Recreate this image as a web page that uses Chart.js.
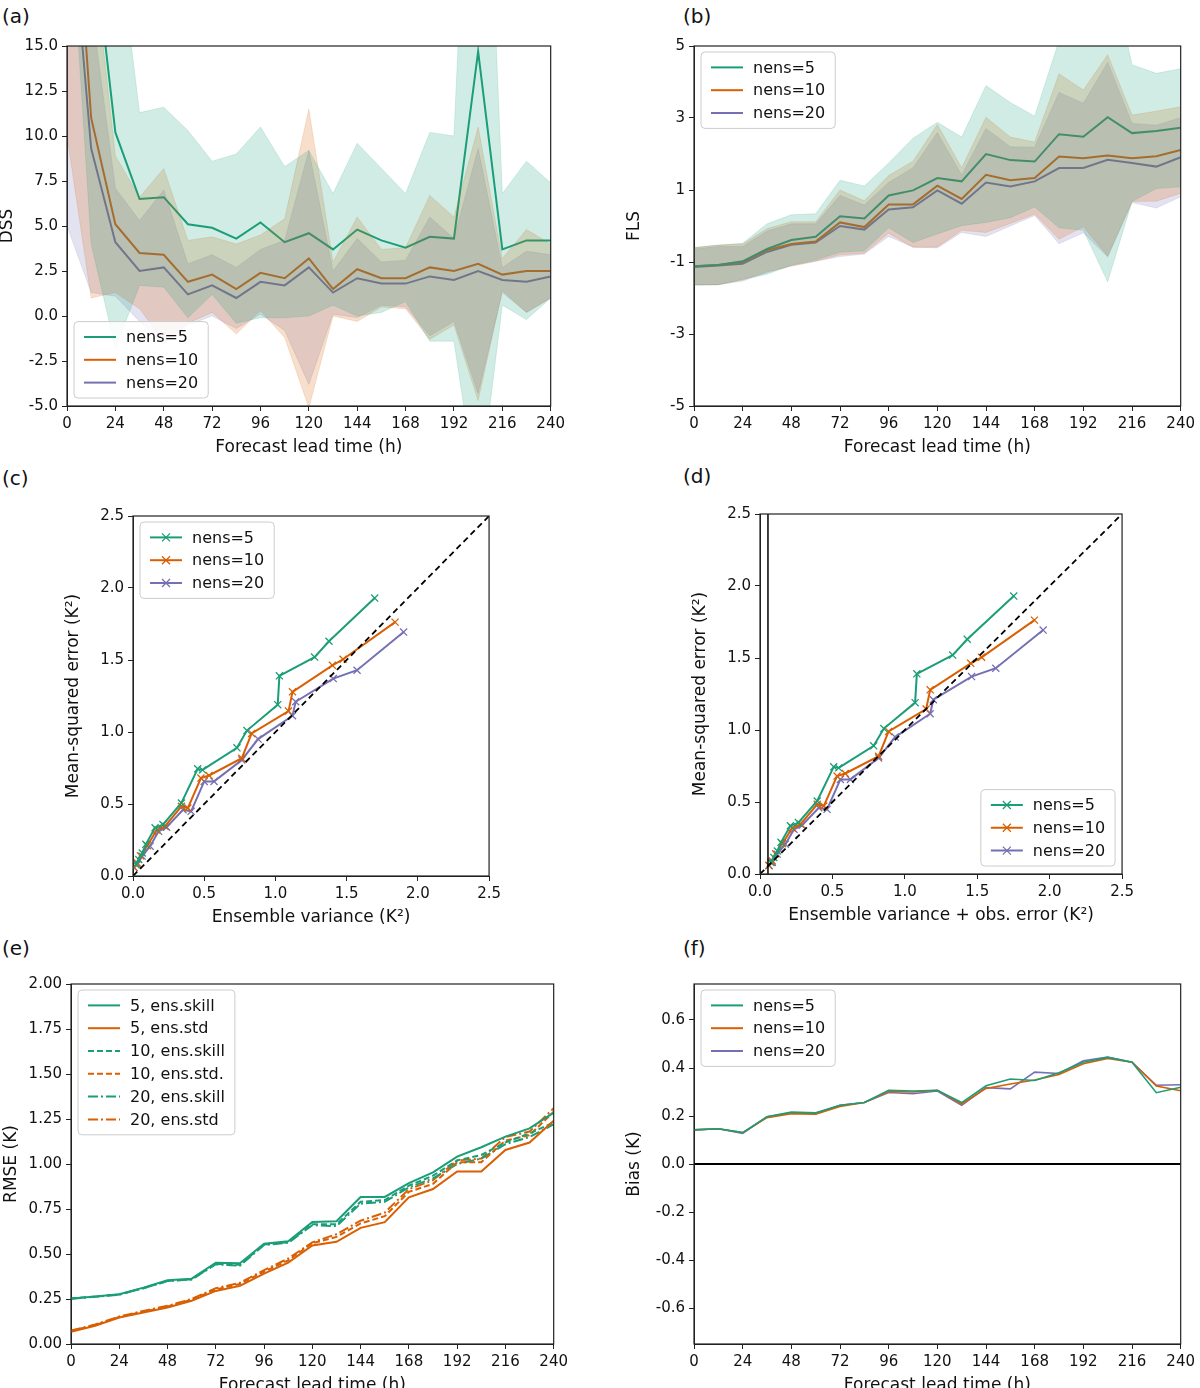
<!DOCTYPE html>
<html>
<head>
<meta charset="utf-8">
<script src="https://cdn.jsdelivr.net/npm/chart.js@4"></script>
<style>
body{margin:0;background:#fff;width:1200px;height:1388px;position:relative;font-family:"DejaVu Sans",sans-serif}
canvas{position:absolute}
.lab{position:absolute;font-size:20px;color:#111}
</style>
</head>
<body>
<div class="lab" style="left:2px;top:4px">(a)</div>
<div class="lab" style="left:683px;top:4px">(b)</div>
<div class="lab" style="left:2px;top:466px">(c)</div>
<div class="lab" style="left:683px;top:464px">(d)</div>
<div class="lab" style="left:2px;top:936px">(e)</div>
<div class="lab" style="left:683px;top:936px">(f)</div>
<canvas id="ca"></canvas><canvas id="cb"></canvas><canvas id="cc"></canvas>
<canvas id="cd"></canvas><canvas id="ce"></canvas><canvas id="cf"></canvas>
<script>
// lead times (h)
var lead=[0,12,24,36,48,60,72,84,96,108,120,132,144,156,168,180,192,204,216,228,240]
var members=['nens=5','nens=10','nens=20']
var green='#1b9e77', orange='#d95f02', purple='#7570b3'

// (a) DSS mean and spread
var dss5=[40,22,10.2,6.5,6.6,5.1,4.9,4.3,5.2,4.1,4.6,3.7,4.8,4.2,3.8,4.4,4.3,14.7,3.7,4.2,4.2]
var dss10=[30,11,5.1,3.5,3.4,1.9,2.3,1.5,2.4,2.1,3.2,1.5,2.6,2.1,2.1,2.7,2.5,2.9,2.3,2.5,2.5]
var dss20=[25,9.3,4.1,2.5,2.7,1.2,1.7,1.0,1.9,1.7,2.7,1.3,2.1,1.8,1.8,2.2,2.0,2.5,2.0,1.9,2.2]
var dssSd5=[15,18,12,4.8,5.0,5.2,3.7,4.7,5.3,4.2,4.6,3.1,4.8,4.0,3.0,5.8,5.7,25,3.1,4.4,3.2]
var dssSd10=[20,10,3.8,3.1,4.8,2.3,2.1,2.5,2.1,3.3,8.3,1.5,2.9,1.6,1.7,4.0,3.0,7.6,0.9,2.3,1.5]
var dssSd20=[20,8,3.0,2.8,4.3,1.7,1.7,1.7,1.8,2.5,6.5,1.2,2.2,1.2,1.3,3.3,2.3,6.8,0.7,1.7,1.2]

// (b) FLS mean and spread
var fls5=[-1.12,-1.08,-0.98,-0.64,-0.39,-0.3,0.27,0.21,0.85,0.99,1.33,1.24,2.0,1.83,1.79,2.55,2.48,3.02,2.58,2.64,2.73]
var fls10=[-1.12,-1.08,-1.0,-0.67,-0.5,-0.43,0.1,-0.03,0.6,0.6,1.12,0.75,1.42,1.27,1.33,1.93,1.88,1.96,1.88,1.94,2.11]
var fls20=[-1.14,-1.1,-1.05,-0.72,-0.52,-0.46,0.0,-0.1,0.46,0.52,0.99,0.62,1.21,1.1,1.24,1.61,1.61,1.84,1.75,1.65,1.91]
var flsSd5=[0.52,0.55,0.5,0.7,0.7,0.64,1.0,0.9,0.9,1.45,1.55,1.23,1.9,1.6,1.26,2.6,2.6,4.57,1.9,1.6,1.64]
var flsSd10=[0.52,0.55,0.5,0.6,0.62,0.55,0.9,0.73,0.8,1.2,1.7,0.87,1.6,1.2,1.0,2.3,1.9,2.8,1.2,1.25,1.2]
var flsSd20=[0.5,0.53,0.48,0.58,0.58,0.52,0.85,0.68,0.75,1.1,1.6,0.8,1.5,1.1,0.95,2.1,1.8,2.7,1.1,1.15,1.1]

// (c),(d) ensemble variance vs mean-squared error
var var5=[0.02,0.04,0.065,0.09,0.155,0.21,0.34,0.454,0.488,0.73,0.80,1.016,1.028,1.275,1.376,1.697]
var mse5=[0.08,0.115,0.16,0.22,0.335,0.357,0.507,0.744,0.737,0.89,1.01,1.19,1.39,1.52,1.63,1.93]
var var10=[0.007,0.03,0.053,0.1,0.167,0.225,0.34,0.385,0.477,0.534,0.764,0.833,1.092,1.12,1.4,1.475,1.84]
var mse10=[0.06,0.09,0.14,0.21,0.32,0.346,0.484,0.472,0.68,0.698,0.818,0.99,1.145,1.279,1.463,1.505,1.763]
var var20=[0.007,0.03,0.064,0.12,0.18,0.236,0.351,0.408,0.5,0.569,0.764,0.878,1.12,1.142,1.406,1.573,1.9]
var mse20=[0.058,0.08,0.138,0.207,0.31,0.339,0.46,0.449,0.657,0.657,0.806,0.951,1.113,1.21,1.371,1.429,1.694]
var obsErr=0.055

// (e) RMSE
var skill5=[0.253,0.264,0.276,0.313,0.354,0.363,0.452,0.448,0.557,0.571,0.678,0.682,0.817,0.817,0.894,0.953,1.041,1.093,1.152,1.198,1.285]
var std5=[0.068,0.101,0.147,0.175,0.203,0.24,0.295,0.323,0.391,0.452,0.547,0.568,0.645,0.677,0.815,0.861,0.958,0.958,1.078,1.119,1.24]
var skill10=[0.253,0.263,0.275,0.31,0.35,0.36,0.445,0.44,0.553,0.565,0.665,0.665,0.79,0.8,0.88,0.935,1.02,1.05,1.12,1.17,1.23]
var std10=[0.073,0.105,0.15,0.18,0.208,0.246,0.303,0.333,0.402,0.465,0.56,0.595,0.67,0.71,0.845,0.89,1.01,1.01,1.13,1.16,1.29]
var skill20=[0.252,0.262,0.274,0.31,0.35,0.358,0.443,0.435,0.55,0.562,0.66,0.655,0.78,0.79,0.87,0.92,1.0,1.03,1.11,1.15,1.22]
var std20=[0.075,0.108,0.153,0.184,0.212,0.25,0.31,0.34,0.41,0.475,0.565,0.61,0.685,0.73,0.86,0.91,1.02,1.03,1.15,1.18,1.31]

// (f) bias
var bias5=[0.142,0.147,0.131,0.197,0.216,0.213,0.245,0.256,0.307,0.304,0.307,0.256,0.326,0.354,0.348,0.38,0.424,0.444,0.424,0.297,0.32]
var bias10=[0.142,0.147,0.131,0.193,0.21,0.208,0.24,0.256,0.302,0.3,0.307,0.25,0.315,0.333,0.35,0.373,0.418,0.44,0.424,0.325,0.305]
var bias20=[0.142,0.147,0.128,0.197,0.213,0.21,0.245,0.256,0.298,0.293,0.304,0.245,0.318,0.313,0.383,0.377,0.43,0.446,0.424,0.328,0.33]

Chart.defaults.font.family='"DejaVu Sans",sans-serif'
Chart.defaults.color='#111'
Chart.defaults.animation=false

function pts(xs,ys){ return xs.map(function(x,i){return {x:x,y:ys[i]}}) }
function addArr(a,b,s){ return a.map(function(v,i){return v+s*b[i]}) }
function hexA(c,a){ var n=parseInt(c.slice(1),16); return 'rgba('+(n>>16)+','+((n>>8)&255)+','+(n&255)+','+a+')' }
function line(label,xs,ys,col,extra){
  var d={label:label,data:pts(xs,ys),borderColor:col,backgroundColor:col,borderWidth:2,pointRadius:0,fill:false,tension:0}
  for(var k in extra) d[k]=extra[k]
  return d
}
function band(mean,sd,col){
  return [
    {data:pts(lead,addArr(mean,sd,1)),borderColor:hexA(col,0.15),borderWidth:1,pointRadius:0,fill:false},
    {data:pts(lead,addArr(mean,sd,-1)),borderColor:hexA(col,0.15),borderWidth:1,pointRadius:0,fill:'-1',backgroundColor:hexA(col,0.2)}
  ]
}

// frame + inside legend, drawn like matplotlib
var mplPlugin={id:'mpl',afterDraw:function(ch){
  var a=ch.chartArea,c=ch.ctx
  c.save();c.strokeStyle='#222';c.lineWidth=1.2;c.strokeRect(a.left,a.top,a.right-a.left,a.bottom-a.top)
  var o=ch.options.plugins.mpl; if(!o||!o.items){c.restore();return}
  c.font='16px "DejaVu Sans"'
  var w=0; o.items.forEach(function(it){w=Math.max(w,c.measureText(it.label).width)})
  var rh=22.8,W=w+62,H=o.items.length*rh+8
  var x=o.pos[1]=='r'?a.right-W-7:a.left+7
  var y=o.pos[0]=='l'?a.bottom-H-8:a.top+6
  c.fillStyle='rgba(255,255,255,0.85)';c.strokeStyle='#ccc';c.lineWidth=1
  c.beginPath();c.roundRect(x,y,W,H,4);c.fill();c.stroke()
  o.items.forEach(function(it,i){
    var yy=y+4+rh*(i+0.5)
    c.strokeStyle=it.color;c.lineWidth=2;c.setLineDash(it.dash||[])
    c.beginPath();c.moveTo(x+10,yy);c.lineTo(x+42,yy);c.stroke();c.setLineDash([])
    if(it.marker){c.beginPath();c.moveTo(x+22,yy-4);c.lineTo(x+30,yy+4);c.moveTo(x+22,yy+4);c.lineTo(x+30,yy-4);c.lineWidth=1.3;c.stroke()}
    c.fillStyle='#111';c.textBaseline='middle';c.fillText(it.label,x+52,yy+1)
  })
  c.restore()
}}

function axis(min,max,step,title,dec,isY){
  return {type:'linear',min:min,max:max,
    ticks:{stepSize:step,autoSkip:false,font:{size:15},color:'#111',padding:4,
      callback:function(v){return dec==null?v:Number(v).toFixed(dec)}},
    grid:{display:true,drawOnChartArea:false,drawTicks:true,tickLength:5,tickColor:'#222'},
    border:{display:true,color:'#222'},
    title:{display:true,text:title,font:{size:17},color:'#111',padding:{top:0,bottom:isY?4:0}},
    afterFit:function(s){ if(isY) s.width=70; else s.height=52 }
  }
}

function make(id,box,datasets,xs,ys,legend){
  var L=box[0]-70,T=box[1]-10,W=box[2]-box[0]+85,H=box[3]-box[1]+62
  var cv=document.getElementById(id)
  cv.width=W;cv.height=H
  cv.style.left=L+'px';cv.style.top=T+'px';cv.style.width=W+'px';cv.style.height=H+'px'
  new Chart(cv,{type:'line',data:{datasets:datasets},plugins:[mplPlugin],
    options:{responsive:false,devicePixelRatio:1,
      layout:{padding:{top:10,right:15,left:0,bottom:0}},
      plugins:{legend:{display:false},tooltip:{enabled:false},mpl:{items:legend.items,pos:legend.pos}},
      scales:{x:xs,y:ys}}})
}
var leg3=[{label:members[0],color:green},{label:members[1],color:orange},{label:members[2],color:purple}]
var leg3x=[{label:members[0],color:green,marker:1},{label:members[1],color:orange,marker:1},{label:members[2],color:purple,marker:1}]
var fc='Forecast lead time (h)'

make('ca',[67,43,554,406],
  [].concat(band(dss5,dssSd5,green),band(dss10,dssSd10,orange),band(dss20,dssSd20,purple),
   [line(members[0],lead,dss5,green),line(members[1],lead,dss10,orange),line(members[2],lead,dss20,purple)]),
  axis(0,240,24,fc,null,false),axis(-5,15,2.5,'DSS',1,true),{items:leg3,pos:'ll'})

make('cb',[694,43,1184,406],
  [].concat(band(fls5,flsSd5,green),band(fls10,flsSd10,orange),band(fls20,flsSd20,purple),
   [line(members[0],lead,fls5,green),line(members[1],lead,fls10,orange),line(members[2],lead,fls20,purple)]),
  axis(0,240,24,fc,null,false),axis(-5,5,2,'FLS',null,true),{items:leg3,pos:'ul'})

var xm={pointStyle:'crossRot',pointRadius:5,pointBorderWidth:1.3}
make('cc',[133,513,490,876],
  [line('1:1',[0,2.5],[0,2.5],'#000',{borderDash:[6,4],borderWidth:1.8}),
   line(members[0],var5,mse5,green,xm),line(members[1],var10,mse10,orange,xm),line(members[2],var20,mse20,purple,xm)],
  axis(0,2.5,0.5,'Ensemble variance (K²)',1,false),axis(0,2.5,0.5,'Mean-squared error (K²)',1,true),{items:leg3x,pos:'ul'})

make('cd',[760,511,1123,874],
  [line('obs',[obsErr,obsErr],[0,2.5],'#000',{borderWidth:1.5}),
   line('1:1',[0,2.5],[0,2.5],'#000',{borderDash:[6,4],borderWidth:1.8}),
   line(members[0],var5.map(function(v){return v+obsErr}),mse5,green,xm),
   line(members[1],var10.map(function(v){return v+obsErr}),mse10,orange,xm),
   line(members[2],var20.map(function(v){return v+obsErr}),mse20,purple,xm)],
  axis(0,2.5,0.5,'Ensemble variance + obs. error (K²)',1,false),axis(0,2.5,0.5,'Mean-squared error (K²)',1,true),{items:leg3x,pos:'lr'})

var dsh=[6,3],dd=[10,3,2,3]
make('ce',[71,981,557,1344],
  [line('5, ens.skill',lead,skill5,green),line('5, ens.std',lead,std5,orange),
   line('10, ens.skill',lead,skill10,green,{borderDash:dsh}),line('10, ens.std.',lead,std10,orange,{borderDash:dsh}),
   line('20, ens.skill',lead,skill20,green,{borderDash:dd}),line('20, ens.std',lead,std20,orange,{borderDash:dd})],
  axis(0,240,24,fc,null,false),axis(0,2,0.25,'RMSE (K)',2,true),
  {items:[{label:'5, ens.skill',color:green},{label:'5, ens.std',color:orange},{label:'10, ens.skill',color:green,dash:dsh},
   {label:'10, ens.std.',color:orange,dash:dsh},{label:'20, ens.skill',color:green,dash:dd},{label:'20, ens.std',color:orange,dash:dd}],pos:'ul'})

var biasY=axis(-0.75,0.75,0.2,'Bias (K)',1,true)
biasY.afterBuildTicks=function(s){s.ticks=[-0.6,-0.4,-0.2,0,0.2,0.4,0.6].map(function(v){return {value:v}})}
make('cf',[694,981,1184,1344],
  [line('zero',[0,240],[0,0],'#000',{borderWidth:2}),
   line(members[0],lead,bias5,green,{borderWidth:1.6}),line(members[1],lead,bias10,orange,{borderWidth:1.6}),line(members[2],lead,bias20,purple,{borderWidth:1.6})],
  axis(0,240,24,fc,null,false),biasY,{items:leg3,pos:'ul'})
</script>
</body>
</html>
